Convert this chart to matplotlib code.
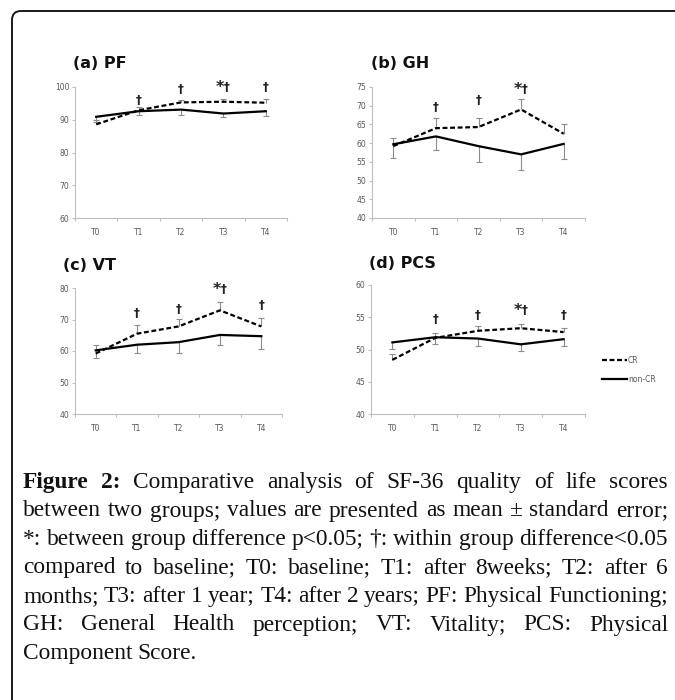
import matplotlib
matplotlib.use("Agg")
import matplotlib.pyplot as plt
from matplotlib.patches import FancyBboxPatch
from matplotlib.lines import Line2D
import numpy as np

times = ["T0", "T1", "T2", "T3", "T4"]

# (a) PF
pf_cr = [88.6, 92.9, 95.3, 95.5, 95.2]
pf_cr_se = [1.2, 1.0, 0.8, 0.9, 1.0]
pf_non = [90.9, 92.6, 93.1, 91.9, 92.6]
pf_non_se = [1.5, 1.3, 1.6, 1.2, 1.5]
pf_marks = ["", "†", "†", "*†", "†"]
pf_mark_y = [0, 96.0, 99.1, 99.7, 99.7]

# (b) GH
gh_cr = [59.2, 64.0, 64.3, 69.0, 62.5]
gh_cr_se = [2.3, 2.8, 2.5, 2.9, 2.7]
gh_non = [59.7, 61.8, 59.2, 57.0, 59.8]
gh_non_se = [3.7, 3.7, 4.3, 4.3, 4.0]
gh_marks = ["", "†", "†", "*†", ""]
gh_mark_y = [0, 69.5, 71.5, 74.4, 0]

# (c) VT
vt_cr = [59.2, 65.5, 67.8, 72.9, 67.8]
vt_cr_se = [2.8, 2.9, 2.4, 2.7, 2.7]
vt_non = [60.2, 62.0, 62.8, 65.1, 64.7]
vt_non_se = [2.4, 2.6, 3.4, 3.1, 4.1]
vt_marks = ["", "†", "†", "*†", "†"]
vt_mark_y = [0, 72.0, 73.2, 79.6, 74.6]

# (d) PCS
pcs_cr = [48.4, 51.8, 52.9, 53.3, 52.7]
pcs_cr_se = [0.9, 0.7, 0.8, 0.6, 0.6]
pcs_non = [51.1, 51.9, 51.7, 50.8, 51.6]
pcs_non_se = [1.0, 1.1, 1.1, 1.0, 1.0]
pcs_marks = ["", "†", "†", "*†", "†"]
pcs_mark_y = [0, 54.6, 55.3, 56.1, 55.3]

caption = [
    "Figure 2: Comparative analysis of SF-36 quality of life scores",
    "between two groups; values are presented as mean ± standard error;",
    "*: between group difference p<0.05; †: within group difference<0.05",
    "compared to baseline; T0: baseline; T1: after 8weeks; T2: after 6",
    "months; T3: after 1 year; T4: after 2 years; PF: Physical Functioning;",
    "GH: General Health perception; VT: Vitality; PCS: Physical",
    "Component Score.",
]

W, H = 675, 700
fig = plt.figure(figsize=(W / 100, H / 100), dpi=100)

# full-figure axes in pixel units for the frame, titles and caption
bg = fig.add_axes([0, 0, 1, 1])
bg.set_xlim(0, W)
bg.set_ylim(H, 0)
bg.axis("off")
bg.add_patch(FancyBboxPatch((12, 11), 900, 900, boxstyle="round,pad=0,rounding_size=9",
                            fc="none", ec="#1a1a1a", lw=1.4))

GREY = "#bfbfbf"
TXT = "#595959"
ERR = "#8c8c8c"


def panel(rect, title, title_xy, cr, cr_se, non, non_se, yticks, marks, mark_y):
    l, t, r, b = rect
    ax = fig.add_axes([l / W, 1 - b / H, (r - l) / W, (b - t) / H])
    x = np.arange(len(times))
    cr, cr_se, non, non_se = map(np.array, (cr, cr_se, non, non_se))

    # error bars: CR plus side only, non-CR minus side only
    ax.vlines(x, cr, cr + cr_se, color=ERR, lw=0.8, zorder=1)
    ax.plot(x, cr + cr_se, ls="none", marker="_", ms=4, mew=0.8, color=ERR, zorder=1)
    ax.vlines(x, non - non_se, non, color=ERR, lw=0.8, zorder=1)
    ax.plot(x, non - non_se, ls="none", marker="_", ms=4, mew=0.8, color=ERR, zorder=1)

    ax.plot(x, cr, color="black", lw=1.6, dashes=(2.2, 1.2), zorder=3, label="CR")
    ax.plot(x, non, color="black", lw=1.6, zorder=2, label="non-CR")

    for i, s in enumerate(marks):
        if not s:
            continue
        if s.startswith("*"):
            ax.text(i + 0.02, mark_y[i], "*", ha="right", va="center", fontsize=11.5,
                    fontweight="bold", family="DejaVu Sans", color="#222")
            ax.text(i + 0.02, mark_y[i], "†", ha="left", va="center", fontsize=8.5,
                    fontweight="bold", family="DejaVu Sans", color="#222")
        else:
            ax.text(i, mark_y[i], s, ha="center", va="center", fontsize=8.5,
                    fontweight="bold", family="DejaVu Sans", color="#222")

    ax.set_xlim(-0.5, len(times) - 0.5)
    ax.set_ylim(yticks[0], yticks[-1])
    ax.set_xticks(np.arange(-0.5, len(times), 1))
    ax.set_xticklabels([])
    ax.set_xticks(x, minor=True)
    ax.set_xticklabels(times, minor=True)
    ax.set_yticks(yticks)
    ax.tick_params(axis="x", which="major", length=2.5, width=0.8, color=GREY)
    ax.tick_params(axis="x", which="minor", length=0, pad=7, labelsize=5.5, labelcolor=TXT)
    ax.tick_params(axis="y", length=2.5, width=0.8, color=GREY, pad=1.5,
                   labelsize=5.5, labelcolor=TXT)
    for s in ("top", "right"):
        ax.spines[s].set_visible(False)
    for s in ("left", "bottom"):
        ax.spines[s].set_color(GREY)
        ax.spines[s].set_linewidth(0.8)
    ax.patch.set_alpha(0)
    bg.text(title_xy[0], title_xy[1], title, fontsize=11.5, fontweight="bold",
            family="DejaVu Sans", va="center", ha="left", color="#111")
    return ax


panel((75, 87, 287, 218), "(a) PF", (73, 63), pf_cr, pf_cr_se, pf_non, pf_non_se,
      [60, 70, 80, 90, 100], pf_marks, pf_mark_y)
panel((372, 87, 585, 218), "(b) GH", (371, 63), gh_cr, gh_cr_se, gh_non, gh_non_se,
      [40, 45, 50, 55, 60, 65, 70, 75], gh_marks, gh_mark_y)
panel((75, 288, 282, 414), "(c) VT", (63, 265), vt_cr, vt_cr_se, vt_non, vt_non_se,
      [40, 50, 60, 70, 80], vt_marks, vt_mark_y)
panel((371, 285, 585, 414), "(d) PCS", (369, 263), pcs_cr, pcs_cr_se, pcs_non, pcs_non_se,
      [40, 45, 50, 55, 60], pcs_marks, pcs_mark_y)

handles = [Line2D([], [], color="black", lw=1.6, dashes=(2.2, 1.2)),
           Line2D([], [], color="black", lw=1.6)]
fig.legend(handles, ["CR", "non-CR"], loc="center left", bbox_to_anchor=(602 / W, 1 - 370 / H),
           frameon=False, fontsize=5.5, handlelength=3.3, handletextpad=0.1,
           labelspacing=1.3, borderpad=0, borderaxespad=0, labelcolor=TXT)

# justified caption
renderer = fig.canvas.get_renderer()
left, right = 23, 668
for i, line in enumerate(caption):
    y = 488 + i * 28.5
    words = line.split(" ")
    texts = []
    for j, w in enumerate(words):
        bold = (i == 0 and j < 2)
        texts.append(bg.text(0, y, w, family="Liberation Serif", fontsize=16.8,
                             fontweight="bold" if bold else "normal",
                             va="baseline", ha="left", color="#111"))
    widths = [t.get_window_extent(renderer).width for t in texts]
    if i == len(caption) - 1:
        gap = 5
    else:
        gap = (right - left - sum(widths)) / (len(words) - 1)
    xpos = left
    for t, w in zip(texts, widths):
        t.set_x(xpos)
        xpos += w + gap

fig.savefig("out.png", dpi=100)
